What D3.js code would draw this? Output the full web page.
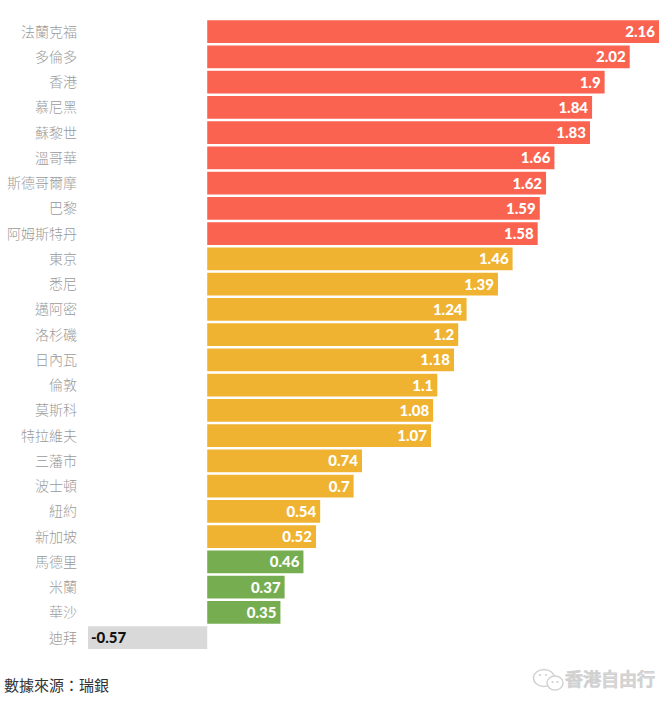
<!DOCTYPE html>
<html>
<head>
<meta charset="utf-8">
<script src="https://cdn.jsdelivr.net/npm/d3@7"></script>
<style>
  body { margin: 0; background: #fff; }
  svg { display: block; }
</style>
</head>
<body>
<div id="chart"></div>
<script>
// Cities and values
var cities = ["法蘭克福", "多倫多", "香港", "慕尼黑", "蘇黎世", "溫哥華", "斯德哥爾摩", "巴黎", "阿姆斯特丹",
    "東京", "悉尼", "邁阿密", "洛杉磯", "日內瓦", "倫敦", "莫斯科", "特拉維夫", "三藩市", "波士頓", "紐約", "新加坡",
    "馬德里", "米蘭", "華沙", "迪拜"];
var values = [2.16, 2.02, 1.9, 1.84, 1.83, 1.66, 1.62, 1.59, 1.58,
    1.46, 1.39, 1.24, 1.2, 1.18, 1.1, 1.08, 1.07, 0.74, 0.7, 0.54, 0.52,
    0.46, 0.37, 0.35, -0.57];
var groups = ["red", "red", "red", "red", "red", "red", "red", "red", "red",
    "orange", "orange", "orange", "orange", "orange", "orange", "orange", "orange", "orange", "orange", "orange", "orange",
    "green", "green", "green", "grey"];
var source = "數據來源：瑞銀";
var watermark = "香港自由行";

var colors = {red: "#f9634f", orange: "#efb331", green: "#76ad50", grey: "#d9d9d9"};

var width = 661, height = 704;

var data = cities.map(function(c, i) {
    return {city: c, value: values[i], group: groups[i]};
});

var svg = d3.select("#chart")
    .append("svg")
    .attr("width", width)
    .attr("height", height);

// Scales
var x = d3.scaleLinear()
    .domain([-0.57, 2.16])
    .range([88, 659]);

var y = d3.scaleBand()
    .domain(cities)
    .range([19, 19 + 25.25 * cities.length])
    .paddingInner(0.1)
    .paddingOuter(0.05);

// Bars
svg.selectAll(".bar")
    .data(data)
    .enter()
    .append("rect")
    .attr("class", "bar")
    .attr("x", d => x(Math.min(0, d.value)))
    .attr("y", d => y(d.city))
    .attr("width", d => Math.abs(x(d.value) - x(0)))
    .attr("height", y.bandwidth())
    .attr("fill", d => colors[d.group]);

// City names
svg.selectAll(".name")
    .data(data)
    .enter()
    .append("text")
    .attr("x", 77)
    .attr("y", d => y(d.city) + y.bandwidth() / 2)
    .attr("dy", "0.35em")
    .attr("text-anchor", "end")
    .attr("font-family", "Noto Sans CJK TC, sans-serif")
    .attr("font-weight", 300)
    .attr("font-size", 14)
    .attr("fill", "#9a9a9a")
    .text(d => d.city);

// Value labels
svg.selectAll(".val")
    .data(data)
    .enter()
    .append("text")
    .attr("x", d => d.value < 0 ? x(d.value) + 3 : x(d.value) - 4)
    .attr("y", d => y(d.city) + y.bandwidth() / 2)
    .attr("dy", "0.36em")
    .attr("text-anchor", d => d.value < 0 ? "start" : "end")
    .attr("font-family", "Lato, Open Sans, sans-serif")
    .attr("font-weight", 900)
    .attr("font-size", 15)
    .attr("fill", d => d.value < 0 ? "#111" : "#fff")
    .text(d => d.value);

// Source note
svg.append("text")
    .attr("x", 4)
    .attr("y", 691)
    .attr("font-family", "Noto Sans CJK TC, sans-serif")
    .attr("font-size", 15)
    .attr("fill", "#333")
    .text(source);

// Watermark with little chat bubbles
var wm = svg.append("g").attr("transform", "translate(533,670)");
wm.append("ellipse").attr("cx", 11).attr("cy", 8).attr("rx", 10.5).attr("ry", 8.5)
    .attr("fill", "#fff").attr("stroke", "#d2d2d2").attr("stroke-width", 1.5);
wm.append("ellipse").attr("cx", 22).attr("cy", 13).attr("rx", 8).attr("ry", 7)
    .attr("fill", "#fff").attr("stroke", "#d2d2d2").attr("stroke-width", 1.5);
[[7, 5], [13, 5], [19.5, 12], [24.5, 12]].forEach(function(p) {
    wm.append("circle").attr("cx", p[0]).attr("cy", p[1]).attr("r", 1.1).attr("fill", "#cfcfcf");
});
wm.append("text")
    .attr("x", 32)
    .attr("y", 16)
    .attr("font-family", "Noto Sans CJK TC, sans-serif")
    .attr("font-size", 18)
    .attr("fill", "#fff")
    .attr("stroke", "#d0d0d0")
    .attr("stroke-width", 1.2)
    .text(watermark);
</script>
</body>
</html>
